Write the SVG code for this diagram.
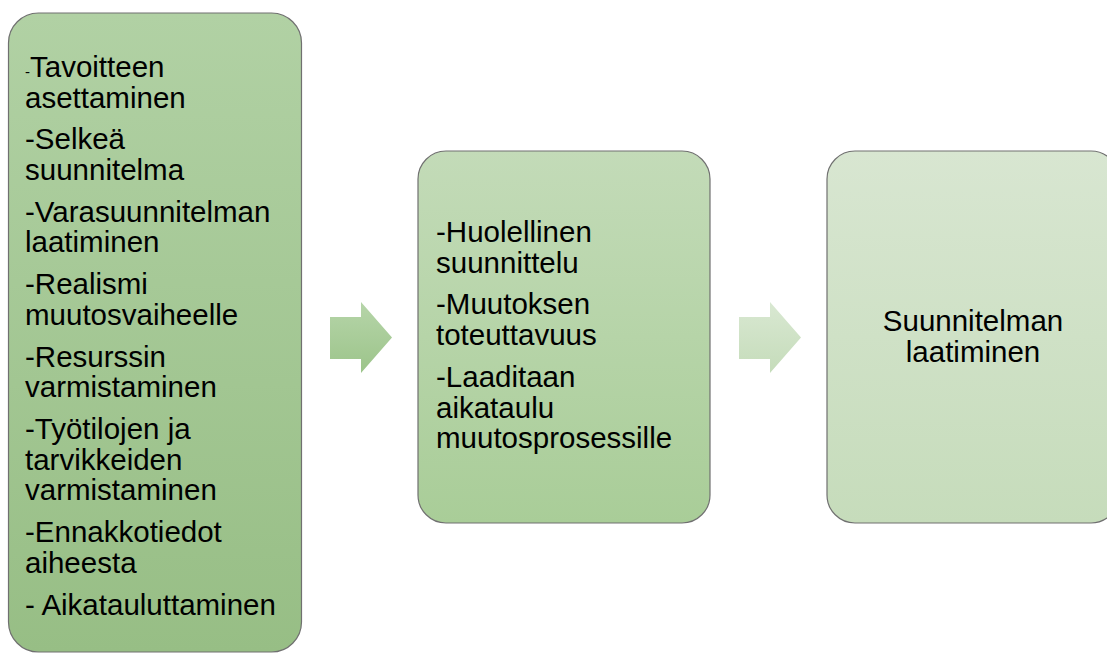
<svg xmlns="http://www.w3.org/2000/svg" width="1107" height="655" viewBox="0 0 1107 655">
  <defs>
    <linearGradient id="g1" x1="0" y1="0" x2="0" y2="1">
      <stop offset="0" stop-color="#b1d1a4"/>
      <stop offset="1" stop-color="#97be85"/>
    </linearGradient>
    <linearGradient id="g2" x1="0" y1="0" x2="0" y2="1">
      <stop offset="0" stop-color="#c3dbb8"/>
      <stop offset="1" stop-color="#a9cd98"/>
    </linearGradient>
    <linearGradient id="g3" x1="0" y1="0" x2="0" y2="1">
      <stop offset="0" stop-color="#d8e6d1"/>
      <stop offset="1" stop-color="#c6dcbb"/>
    </linearGradient>
    <linearGradient id="ga1" x1="0" y1="0" x2="0" y2="1">
      <stop offset="0" stop-color="#b6d5a9"/>
      <stop offset="1" stop-color="#9cc48a"/>
    </linearGradient>
    <linearGradient id="ga2" x1="0" y1="0" x2="0" y2="1">
      <stop offset="0" stop-color="#d9e8d2"/>
      <stop offset="1" stop-color="#c5dcba"/>
    </linearGradient>
  </defs>
  <style>
    .box { stroke: #707070; stroke-width: 1.2; }
    .t { font-family: "Liberation Sans", Arial, sans-serif; font-size: 29.5px; fill: #000; }
    .small { font-size: 15px; }
    .mid { text-anchor: middle; }
  </style>
  <rect width="1107" height="655" fill="#ffffff"/>

  <g id="node-1">
    <rect class="box" x="8.5" y="13" width="293" height="639" rx="30" ry="30" fill="url(#g1)"/>
    <text class="t" x="25" y="77"><tspan class="small">-</tspan>Tavoitteen</text>
    <text class="t" x="25" y="108">asettaminen</text>
    <text class="t" x="25" y="149">-Selkeä</text>
    <text class="t" x="25" y="180">suunnitelma</text>
    <text class="t" x="25" y="222">-Varasuunnitelman</text>
    <text class="t" x="25" y="252">laatiminen</text>
    <text class="t" x="25" y="294">-Realismi</text>
    <text class="t" x="25" y="325">muutosvaiheelle</text>
    <text class="t" x="25" y="367">-Resurssin</text>
    <text class="t" x="25" y="397">varmistaminen</text>
    <text class="t" x="25" y="439">-Työtilojen ja</text>
    <text class="t" x="25" y="470">tarvikkeiden</text>
    <text class="t" x="25" y="500">varmistaminen</text>
    <text class="t" x="25" y="542">-Ennakkotiedot</text>
    <text class="t" x="25" y="573">aiheesta</text>
    <text class="t" x="25" y="615">- Aikatauluttaminen</text>
  </g>

  <g id="node-2">
    <rect class="box" x="418" y="151" width="292" height="372" rx="28" ry="28" fill="url(#g2)"/>
    <text class="t" x="436" y="242">-Huolellinen</text>
    <text class="t" x="436" y="273">suunnittelu</text>
    <text class="t" x="436" y="314">-Muutoksen</text>
    <text class="t" x="436" y="345">toteuttavuus</text>
    <text class="t" x="436" y="387">-Laaditaan</text>
    <text class="t" x="436" y="418">aikataulu</text>
    <text class="t" x="436" y="448">muutosprosessille</text>
  </g>

  <g id="node-3">
    <rect class="box" x="827" y="151" width="292" height="372" rx="28" ry="28" fill="url(#g3)"/>
    <text class="t mid" x="973" y="331">Suunnitelman</text>
    <text class="t mid" x="973" y="362">laatiminen</text>
  </g>

  <g id="connectors">
    <polygon points="330,317 361,317 361,302 392,337.5 361,373 361,359 330,359" fill="url(#ga1)"/>
    <polygon points="739,317 770,317 770,302 801,337.5 770,373 770,359 739,359" fill="url(#ga2)"/>
  </g>
</svg>
